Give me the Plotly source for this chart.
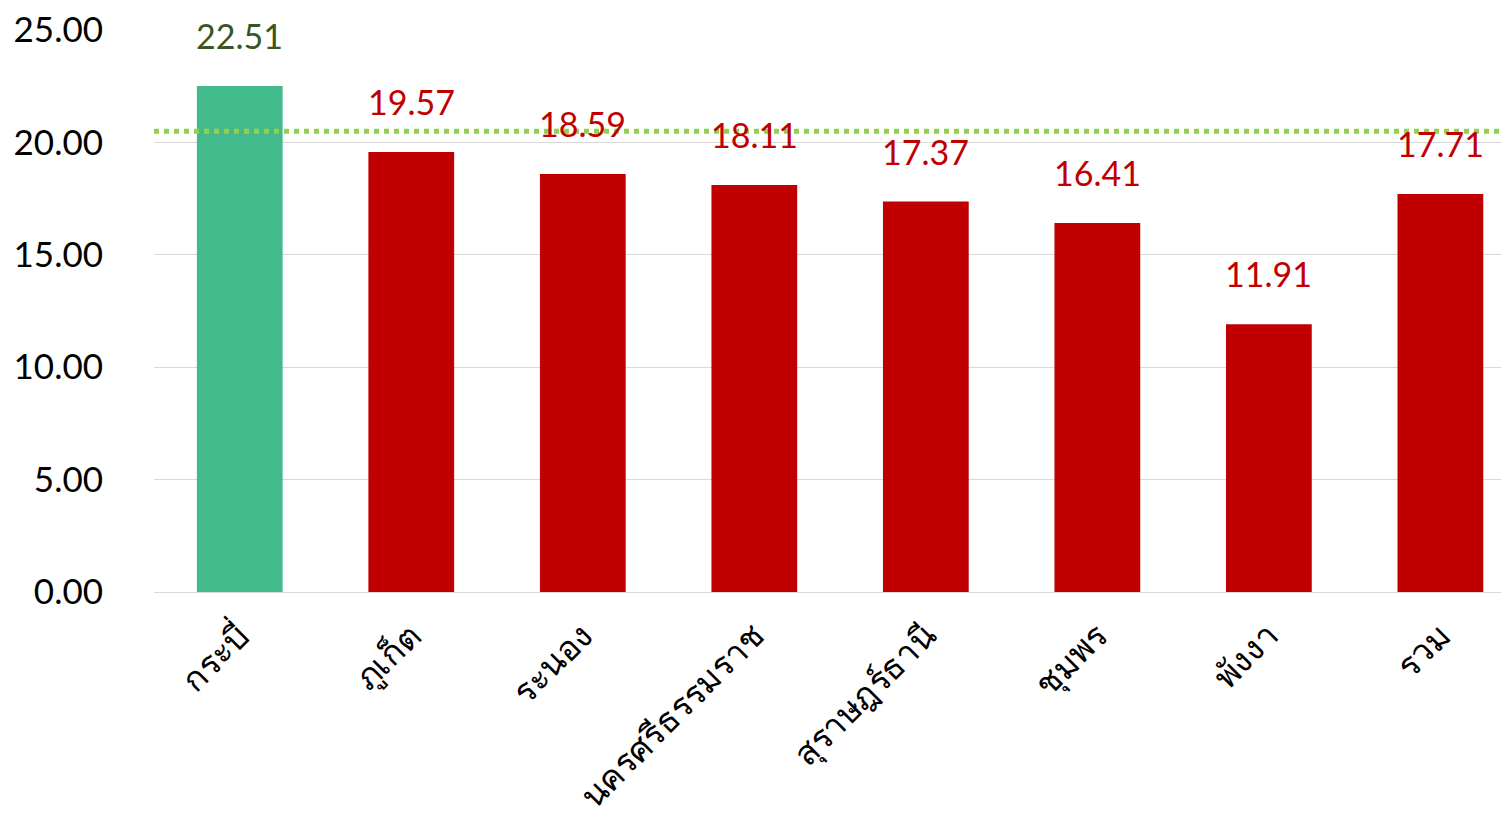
import plotly.graph_objects as go

categories = ["กระบี่", "ภูเก็ต", "ระนอง", "นครศรีธรรมราช", "สุราษฎร์ธานี", "ชุมพร", "พังงา", "รวม"]
values = [22.51, 19.57, 18.59, 18.11, 17.37, 16.41, 11.91, 17.71]
target = 20.5
y_ticks = [0, 5, 10, 15, 20, 25]

bar_colors = ["#43BA8B"] + ["#C00000"] * (len(values) - 1)
label_colors = ["#375623"] + ["#C00000"] * (len(values) - 1)

fig = go.Figure()
fig.add_trace(go.Bar(
    x=categories, y=values, marker_color=bar_colors, width=0.5,
    marker_line_width=0, hoverinfo="skip",
))

for c, v, col in zip(categories, values, label_colors):
    fig.add_annotation(x=c, y=v, text=f"{v:.2f}", showarrow=False,
                       yanchor="bottom", yshift=28,
                       font=dict(family="Lato", size=34, color=col))

fig.add_shape(type="line", xref="paper", yref="y", x0=0, x1=1, y0=target, y1=target,
              line=dict(color="#92D050", width=5, dash="dot"))

fig.update_layout(
    width=1501, height=812,
    margin=dict(l=146, r=0, t=22, b=228, autoexpand=False),
    plot_bgcolor="white", paper_bgcolor="white",
    showlegend=False,
    font=dict(family="Lato", size=34, color="#000000"),
    xaxis=dict(range=[-0.5, 7.4], tickangle=-45, showgrid=False, showline=False,
               ticks="", ticklabelstandoff=16, automargin=False,
               tickfont=dict(family="Noto Sans, Lato", size=34)),
    yaxis=dict(range=[0, 25], tickvals=y_ticks, tickformat=".2f",
               showgrid=True, gridcolor="#D9D9D9", gridwidth=1,
               zeroline=True, zerolinecolor="#D9D9D9", zerolinewidth=1,
               ticks="", ticklabelstandoff=50, ticklabeloverflow="allow",
               automargin=False,
               tickfont=dict(family="Lato", size=35)),
)

fig.write_html("out.html")
